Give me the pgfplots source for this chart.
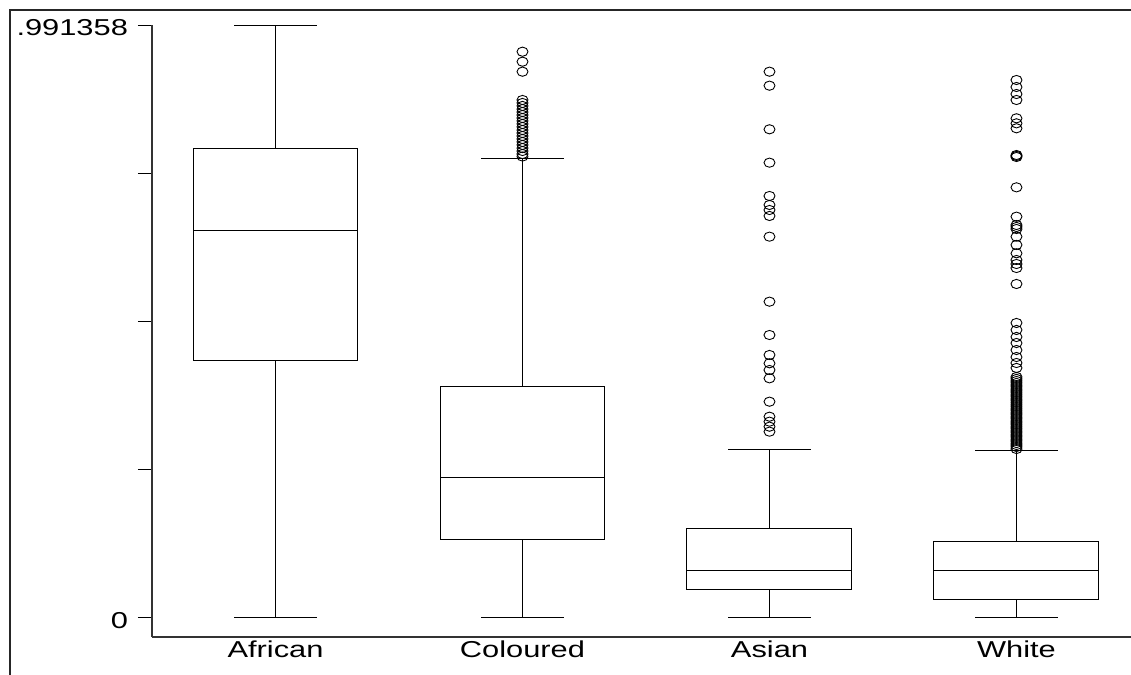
\documentclass[border=0pt]{standalone}
\usepackage{fontspec}
\setmainfont{Liberation Sans}[FakeStretch=1.34]
\usepackage{pgfplots}
\usepgfplotslibrary{statistics}
\pgfplotsset{compat=1.18}
\pgfplotsset{bx/.style={black, line width=0.5pt, mark=o, mark size=2.5pt,
     mark options={solid, black, line width=0.45pt, xscale=1.1, yscale=0.92}, boxplot/draw direction=y,
     boxplot/box extend=0.668, boxplot/whisker extend=0.335}}
\begin{document}
\begin{tikzpicture}
\useasboundingbox (0,0) rectangle (565.5pt,-337.5pt);
\draw[line width=1pt, black!85] (5pt,-345pt) -- (5pt,-5pt) -- (575pt,-5pt);
\begin{axis}[
  at={(76pt,-318.5pt)}, anchor=south west,
  scale only axis, width=494pt, height=306pt,
  xmin=0.5, xmax=4.5, ymin=-0.0318, ymax=0.991358,
  axis x line=bottom, axis y line=left,
  axis line style={-, line width=0.6pt, black!80},
  tick align=outside,
  ytick={0,0.2478395,0.495679,0.7435185,0.991358},
  yticklabels={0,,,,.991358},
  major tick length=7pt,
  ytick style={line width=0.5pt, black},
  xtick={1,2,3,4},
  xticklabels={African,Coloured,Asian,White},
  xtick style={draw=none},
  tick label style={font=\fontsize{11.5}{13}\selectfont},
  xticklabel style={yshift=8.5pt},
  yticklabel style={xshift=-1.5pt, yshift=-1.5pt},
]
\addplot[bx, boxplot prepared={draw position=1, lower whisker=0, lower quartile=0.4313,
  median=0.6470, upper quartile=0.7841, upper whisker=0.991358}] coordinates {};
\addplot[bx, boxplot prepared={draw position=2, lower whisker=0, lower quartile=0.1304,
  median=0.2341, upper quartile=0.3862, upper whisker=0.7674}]
  table[row sep=\\, y index=0] {v\\ 0.9467\\ 0.9300\\ 0.9133\\ 0.8660\\ 0.8610\\ 0.8560\\ 0.8509\\
  0.8459\\ 0.8409\\ 0.8359\\ 0.8309\\ 0.8259\\ 0.8209\\ 0.8158\\ 0.8108\\ 0.8058\\ 0.8008\\
  0.7958\\ 0.7908\\ 0.7857\\ 0.7807\\ 0.7757\\ 0.7715\\};
\addplot[bx, boxplot prepared={draw position=3, lower whisker=0, lower quartile=0.0468,
  median=0.0786, upper quartile=0.1488, upper whisker=0.2809}]
  table[row sep=\\, y index=0] {v\\ 0.9133\\ 0.8899\\ 0.8170\\ 0.7612\\ 0.7055\\ 0.6905\\ 0.6821\\
  0.6721\\ 0.6375\\ 0.5288\\ 0.4731\\ 0.4397\\ 0.4258\\ 0.4146\\ 0.4007\\ 0.3616\\ 0.3365\\
  0.3282\\ 0.3198\\ 0.3115\\};
\addplot[bx, boxplot prepared={draw position=4, lower whisker=0, lower quartile=0.0301,
  median=0.0786, upper quartile=0.1287, upper whisker=0.2792}]
  table[row sep=\\, y index=0] {v\\ 0.8994\\ 0.8877\\ 0.8760\\ 0.8660\\ 0.8354\\ 0.8270\\ 0.8187\\
  0.7740\\ 0.7724\\ 0.7707\\ 0.7200\\ 0.6709\\ 0.6570\\ 0.6537\\ 0.6503\\ 0.6375\\ 0.6236\\
  0.6097\\ 0.5985\\ 0.5918\\ 0.5851\\ 0.5584\\ 0.4932\\ 0.4815\\ 0.4698\\ 0.4597\\ 0.4480\\
  0.4363\\ 0.4263\\ 0.4180\\ 0.4029\\ 0.3996\\ 0.3962\\ 0.3929\\ 0.3895\\ 0.3862\\ 0.3828\\
  0.3795\\ 0.3762\\ 0.3728\\ 0.3695\\ 0.3661\\ 0.3628\\ 0.3595\\ 0.3561\\ 0.3528\\ 0.3494\\
  0.3461\\ 0.3427\\ 0.3394\\ 0.3360\\ 0.3327\\ 0.3293\\ 0.3260\\ 0.3227\\ 0.3193\\ 0.3160\\
  0.3126\\ 0.3093\\ 0.3059\\ 0.3026\\ 0.2992\\ 0.2959\\ 0.2925\\ 0.2892\\ 0.2859\\ 0.2825\\};
\end{axis}
\end{tikzpicture}
\end{document}
